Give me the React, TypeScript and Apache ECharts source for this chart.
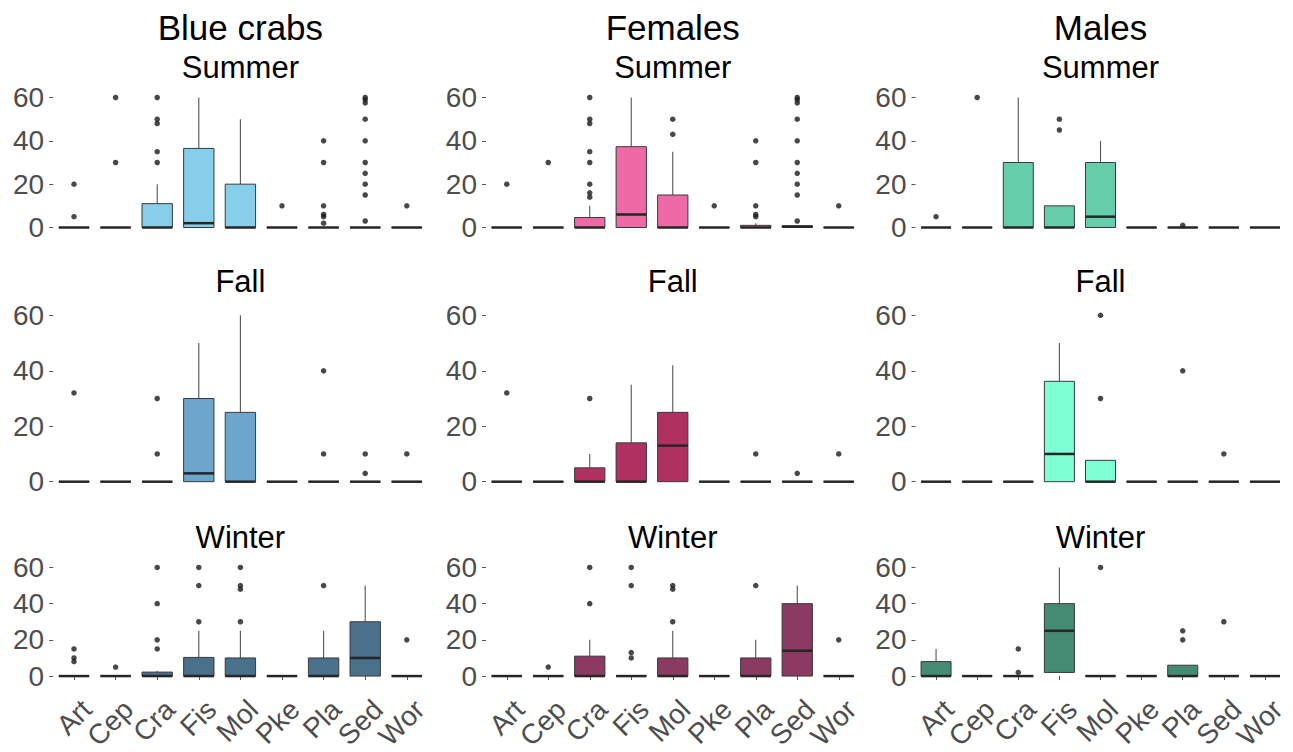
import React, { useEffect, useRef } from "react";
import * as echarts from "echarts";

const CATS = ["Art", "Cep", "Cra", "Fis", "Mol", "Pke", "Pla", "Sed", "Wor"];
const Y_TICKS = [0, 20, 40, 60];
const GROUPS = ["Blue crabs", "Females", "Males"];
const SEASONS = ["Summer", "Fall", "Winter"];

// [min, Q1, median, Q3, max] per category
const Z = [0, 0, 0, 0, 0];
const blueSummerBox = [Z, Z, [0, 0, 0, 11, 20], [0, 0, 2, 36.5, 60], [0, 0, 0, 20, 50], Z, Z, Z, Z];
const blueSummerOut = [[20, 5], [60, 30], [60, 50, 48, 35, 30], [], [], [10], [40, 30, 10, 6, 5, 2], [60, 59, 57.5, 50, 40, 30, 25, 20, 15, 3], [10]];
const femSummerBox = [Z, Z, [0, 0, 0, 4.6, 10], [0, 0, 6, 37.3, 60], [0, 0, 0, 15, 35], Z, [0, 0, 0, 1, 2], [0, 0, 0.4, 0.8, 0.8], Z];
const femSummerOut = [[20], [30], [60, 50, 48, 35, 30, 20, 16, 14], [], [50, 43], [10], [40, 30, 10, 6, 5], [60, 59, 57.5, 50, 40, 30, 25, 20, 15, 3], [10]];
const maleSummerBox = [Z, Z, [0, 0, 0, 30, 60], [0, 0, 0, 10, 10], [0, 0, 5, 30, 40], Z, Z, Z, Z];
const maleSummerOut = [[5], [60], [], [50, 45], [], [], [1], [], []];

const blueFallBox = [Z, Z, Z, [0, 0, 3, 30, 50], [0, 0, 0, 25, 60], Z, Z, Z, Z];
const blueFallOut = [[32], [], [30, 10], [], [], [], [40, 10], [10, 3], [10]];
const femFallBox = [Z, Z, [0, 0, 0, 5, 10], [0, 0, 0, 14, 35], [0, 0, 13, 25, 42], Z, Z, Z, Z];
const femFallOut = [[32], [], [30], [], [], [], [10], [3], [10]];
const maleFallBox = [Z, Z, Z, [0, 0, 10, 36.2, 50], [0, 0, 0, 7.7, 7.7], Z, Z, Z, Z];
const maleFallOut = [[], [], [], [], [60, 30], [], [40], [10], []];

const blueWinterBox = [Z, Z, [0, 0, 0, 2.2, 3], [0, 0, 0, 10.3, 25], [0, 0, 0, 10, 25], Z, [0, 0, 0, 10, 25], [0, 0, 10, 30, 50], Z];
const blueWinterOut = [[15, 10, 8], [5], [60, 40, 20, 15], [60, 50, 30], [60, 50, 48, 30], [], [50], [], [20]];
const femWinterBox = [Z, Z, [0, 0, 0, 11, 20], Z, [0, 0, 0, 10, 25], Z, [0, 0, 0, 10, 20], [0, 0, 14, 40, 50], Z];
const femWinterOut = [[], [5], [60, 40], [60, 50, 13, 10], [50, 48, 30], [], [50], [], [20]];
const maleWinterBox = [[0, 0, 0, 8, 15], Z, Z, [2, 2, 25, 40, 60], Z, Z, [0, 0, 0, 6, 6], Z, Z];
const maleWinterOut = [[], [], [15, 2], [], [60], [], [25, 20], [30], []];

const blueColors = ["#87CEEB", "#6CA6CD", "#4A708B"];
const femColors = ["#EE6AA7", "#B03060", "#8B3A62"];
const maleColors = ["#66CDAA", "#7FFFD4", "#458B74"];

// panels[row][col]
const PANELS = [
  [
    { box: blueSummerBox, out: blueSummerOut, color: blueColors[0] },
    { box: femSummerBox, out: femSummerOut, color: femColors[0] },
    { box: maleSummerBox, out: maleSummerOut, color: maleColors[0] },
  ],
  [
    { box: blueFallBox, out: blueFallOut, color: blueColors[1] },
    { box: femFallBox, out: femFallOut, color: femColors[1] },
    { box: maleFallBox, out: maleFallOut, color: maleColors[1] },
  ],
  [
    { box: blueWinterBox, out: blueWinterOut, color: blueColors[2] },
    { box: femWinterBox, out: femWinterOut, color: femColors[2] },
    { box: maleWinterBox, out: maleWinterOut, color: maleColors[2] },
  ],
];

const COLS = [
  { left: 53.2, width: 374.4 },
  { left: 486, width: 373.5 },
  { left: 915.5, width: 370 },
];
const ROWS = [
  { top: 91, height: 143, titleY: 67.5 },
  { top: 307, height: 183, titleY: 281.5 },
  { top: 562, height: 119.5, titleY: 537 },
];
const FONT = "Liberation Sans, Arial, sans-serif";

export default function App() {
  const ref = useRef<HTMLDivElement>(null);
  useEffect(() => {
    if (!ref.current) return;
    const chart = echarts.init(ref.current, undefined, { renderer: "svg" });
    const grid: any[] = [];
    const xAxis: any[] = [];
    const yAxis: any[] = [];
    const series: any[] = [];
    const graphic: any[] = [];
    ROWS.forEach((r, ri) => {
      COLS.forEach((c, ci) => {
        const g = ri * 3 + ci;
        const p = PANELS[ri][ci];
        grid.push({ left: c.left, width: c.width, top: r.top, height: r.height, containLabel: false, outerBoundsMode: "none" });
        const bottom = ri === 2;
        xAxis.push({
          type: "category",
          gridIndex: g,
          data: CATS,
          boundaryGap: true,
          axisLine: { show: false },
          axisTick: { show: bottom, alignWithLabel: true, length: 4, lineStyle: { color: "#555" } },
          axisLabel: {
            show: bottom,
            interval: 0,
            rotate: 45,
            fontSize: 28,
            color: "#4d4d4d",
            fontFamily: FONT,
            margin: 36,
            padding: [0, -18, 0, 0],
          },
          splitLine: { show: false },
        });
        yAxis.push({
          type: "value",
          gridIndex: g,
          min: -3,
          max: 63,
          axisLine: { show: false },
          splitLine: { show: false },
          axisTick: { show: true, length: 4, customValues: Y_TICKS, lineStyle: { color: "#555" } },
          axisLabel: { customValues: Y_TICKS, fontSize: 28, color: "#4d4d4d", fontFamily: FONT, margin: 9 },
        });
        const color = p.color;
        series.push({
          type: "custom",
          xAxisIndex: g,
          yAxisIndex: g,
          encode: { x: 0, y: [1, 2, 3, 4, 5] },
          data: p.box.map((b, i) => [i, ...b]),
          renderItem: (params: any, api: any) => {
            const x = api.value(0);
            const lo = api.coord([x, api.value(1)]);
            const q1 = api.coord([x, api.value(2)]);
            const md = api.coord([x, api.value(3)]);
            const q3 = api.coord([x, api.value(4)]);
            const hi = api.coord([x, api.value(5)]);
            const bw = api.size([1, 0])[0] * 0.73;
            const cx = q1[0];
            return {
              type: "group",
              children: [
                { type: "line", shape: { x1: cx, y1: q3[1], x2: cx, y2: hi[1] }, style: { stroke: "#555", lineWidth: 1.1 } },
                { type: "line", shape: { x1: cx, y1: lo[1], x2: cx, y2: q1[1] }, style: { stroke: "#555", lineWidth: 1.1 } },
                {
                  type: "rect",
                  shape: { x: cx - bw / 2, y: q3[1], width: bw, height: q1[1] - q3[1] },
                  style: { fill: color, stroke: "#3a3a3a", lineWidth: 1 },
                },
                { type: "line", shape: { x1: cx - bw / 2, y1: md[1], x2: cx + bw / 2, y2: md[1] }, style: { stroke: "#262626", lineWidth: 2.5 } },
              ],
            };
          },
        });
        const pts: number[][] = [];
        p.out.forEach((vals, i) => vals.forEach((v) => pts.push([i, v])));
        series.push({
          type: "scatter",
          xAxisIndex: g,
          yAxisIndex: g,
          data: pts,
          symbolSize: 5.5,
          itemStyle: { color: "#1a1a1a" },
          z: 5,
        });
        graphic.push({
          type: "text",
          x: c.left + c.width / 2,
          y: r.titleY,
          style: { text: SEASONS[ri], font: `31px ${FONT}`, fill: "#000", textAlign: "center", textVerticalAlign: "middle" },
        });
      });
    });
    COLS.forEach((c, ci) => {
      graphic.push({
        type: "text",
        x: c.left + c.width / 2,
        y: 27,
        style: { text: GROUPS[ci], font: `35px ${FONT}`, fill: "#000", textAlign: "center", textVerticalAlign: "middle" },
      });
    });
    chart.setOption({
      animation: false,
      backgroundColor: "#fff",
      grid,
      xAxis,
      yAxis,
      series,
      graphic,
    });
    return () => chart.dispose();
  }, []);
  return <div ref={ref} style={{ position: "absolute", left: 0, top: 0, width: 1293, height: 752 }} />;
}
